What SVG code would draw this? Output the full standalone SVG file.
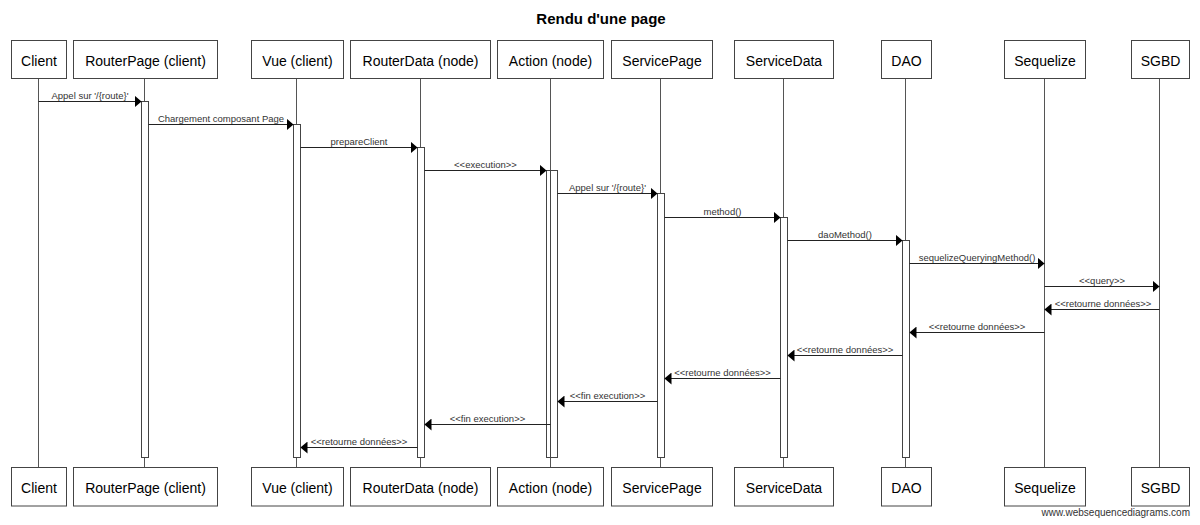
<svg xmlns="http://www.w3.org/2000/svg" width="1200" height="525" viewBox="0 0 1200 525">
<defs>
<marker id="ah" viewBox="0 0 7 12" refX="7" refY="6" markerWidth="7" markerHeight="12" markerUnits="userSpaceOnUse" orient="auto"><path d="M0,0 L7,6 L0,12 z" fill="#000"/></marker>
</defs>
<style>
.box{fill:#fff;stroke:#444;stroke-width:1}
.life{stroke:#555;stroke-width:1;fill:none}
.act{fill:#fff;stroke:#444;stroke-width:1}
.pl{font-family:"Liberation Sans",Arial,sans-serif;font-size:14px;fill:#000;text-anchor:middle}
.msg{stroke:#222;stroke-width:1;fill:none;marker-end:url(#ah)}
.ml{font-family:"Liberation Sans",Arial,sans-serif;font-size:9.5px;fill:#333;text-anchor:middle}
.title{font-family:"Liberation Sans",Arial,sans-serif;font-size:15px;font-weight:bold;fill:#000;text-anchor:middle}
.foot{font-family:"Liberation Sans",Arial,sans-serif;font-size:10px;fill:#333;text-anchor:end}
</style>
<rect width="1200" height="525" fill="#fff"/>
<text class="title" x="601" y="23.5">Rendu d'une page</text>

<g id="client">
<line class="life" x1="38.5" y1="78.5" x2="38.5" y2="467.5"/>
<rect class="box" x="11.5" y="40.5" width="55" height="38"/>
<text class="pl" x="39" y="65.5">Client</text>
<rect class="box" x="11.5" y="467.5" width="55" height="38.5"/>
<text class="pl" x="39" y="493">Client</text>
</g>
<g id="routerpage">
<line class="life" x1="144.5" y1="78.5" x2="144.5" y2="467.5"/>
<rect class="act" x="141.5" y="101.5" width="7" height="356"/>
<rect class="box" x="73.5" y="40.5" width="144" height="38"/>
<text class="pl" x="145.5" y="65.5">RouterPage (client)</text>
<rect class="box" x="73.5" y="467.5" width="144" height="38.5"/>
<text class="pl" x="145.5" y="493">RouterPage (client)</text>
</g>
<g id="vue">
<line class="life" x1="296.5" y1="78.5" x2="296.5" y2="467.5"/>
<rect class="act" x="293.5" y="124.5" width="7" height="333"/>
<rect class="box" x="251.5" y="40.5" width="92" height="38"/>
<text class="pl" x="297.5" y="65.5">Vue (client)</text>
<rect class="box" x="251.5" y="467.5" width="92" height="38.5"/>
<text class="pl" x="297.5" y="493">Vue (client)</text>
</g>
<g id="routerdata">
<line class="life" x1="420.5" y1="78.5" x2="420.5" y2="467.5"/>
<rect class="act" x="417.5" y="147.5" width="7" height="310"/>
<rect class="box" x="350.5" y="40.5" width="140" height="38"/>
<text class="pl" x="420.5" y="65.5">RouterData (node)</text>
<rect class="box" x="350.5" y="467.5" width="140" height="38.5"/>
<text class="pl" x="420.5" y="493">RouterData (node)</text>
</g>
<g id="action">
<line class="life" x1="550.5" y1="78.5" x2="550.5" y2="467.5"/>
<rect class="act" x="546.5" y="170.5" width="7" height="287"/>
<rect class="act" x="550.5" y="170.5" width="7" height="287"/>
<rect class="box" x="497.5" y="40.5" width="106" height="38"/>
<text class="pl" x="550.5" y="65.5">Action (node)</text>
<rect class="box" x="497.5" y="467.5" width="106" height="38.5"/>
<text class="pl" x="550.5" y="493">Action (node)</text>
</g>
<g id="servicepage">
<line class="life" x1="660.5" y1="78.5" x2="660.5" y2="467.5"/>
<rect class="act" x="657.5" y="193.5" width="7" height="264"/>
<rect class="box" x="611.5" y="40.5" width="101" height="38"/>
<text class="pl" x="662" y="65.5">ServicePage</text>
<rect class="box" x="611.5" y="467.5" width="101" height="38.5"/>
<text class="pl" x="662" y="493">ServicePage</text>
</g>
<g id="servicedata">
<line class="life" x1="783.5" y1="78.5" x2="783.5" y2="467.5"/>
<rect class="act" x="780.5" y="217.5" width="7" height="240"/>
<rect class="box" x="734.5" y="40.5" width="99" height="38"/>
<text class="pl" x="784" y="65.5">ServiceData</text>
<rect class="box" x="734.5" y="467.5" width="99" height="38.5"/>
<text class="pl" x="784" y="493">ServiceData</text>
</g>
<g id="dao">
<line class="life" x1="905.5" y1="78.5" x2="905.5" y2="467.5"/>
<rect class="act" x="902.5" y="240.5" width="7" height="217"/>
<rect class="box" x="881.5" y="40.5" width="50" height="38"/>
<text class="pl" x="906.5" y="65.5">DAO</text>
<rect class="box" x="881.5" y="467.5" width="50" height="38.5"/>
<text class="pl" x="906.5" y="493">DAO</text>
</g>
<g id="sequelize">
<line class="life" x1="1044.5" y1="78.5" x2="1044.5" y2="467.5"/>
<rect class="box" x="1004.5" y="40.5" width="81" height="38"/>
<text class="pl" x="1045" y="65.5">Sequelize</text>
<rect class="box" x="1004.5" y="467.5" width="81" height="38.5"/>
<text class="pl" x="1045" y="493">Sequelize</text>
</g>
<g id="sgbd">
<line class="life" x1="1159.5" y1="78.5" x2="1159.5" y2="467.5"/>
<rect class="box" x="1131.5" y="40.5" width="58" height="38"/>
<text class="pl" x="1160.5" y="65.5">SGBD</text>
<rect class="box" x="1131.5" y="467.5" width="58" height="38.5"/>
<text class="pl" x="1160.5" y="493">SGBD</text>
</g>

<g id="connectors">
<line class="msg" x1="38.5" y1="101.5" x2="141.5" y2="101.5"/>
<text class="ml" x="90" y="98.5">Appel sur '/{route}'</text>
<line class="msg" x1="148.5" y1="124.5" x2="293.5" y2="124.5"/>
<text class="ml" x="221" y="121.5">Chargement composant Page</text>
<line class="msg" x1="300.5" y1="147.5" x2="417.5" y2="147.5"/>
<text class="ml" x="359" y="144.5">prepareClient</text>
<line class="msg" x1="424.5" y1="170.5" x2="546.5" y2="170.5"/>
<text class="ml" x="485.5" y="167.5">&lt;&lt;execution&gt;&gt;</text>
<line class="msg" x1="557.5" y1="193.5" x2="657.5" y2="193.5"/>
<text class="ml" x="607.5" y="190.5">Appel sur '/{route}'</text>
<line class="msg" x1="664.5" y1="217.5" x2="780.5" y2="217.5"/>
<text class="ml" x="722.5" y="214.5">method()</text>
<line class="msg" x1="787.5" y1="240.5" x2="902.5" y2="240.5"/>
<text class="ml" x="845" y="237.5">daoMethod()</text>
<line class="msg" x1="909.5" y1="263.5" x2="1044.5" y2="263.5"/>
<text class="ml" x="977" y="260.5">sequelizeQueryingMethod()</text>
<line class="msg" x1="1044.5" y1="286.5" x2="1159.5" y2="286.5"/>
<text class="ml" x="1102" y="283.5">&lt;&lt;query&gt;&gt;</text>
<line class="msg" x1="1159.5" y1="309.5" x2="1044.5" y2="309.5"/>
<text class="ml" x="1103" y="306.5">&lt;&lt;retourne données&gt;&gt;</text>
<line class="msg" x1="1044.5" y1="332.5" x2="909.5" y2="332.5"/>
<text class="ml" x="977" y="329.5">&lt;&lt;retourne données&gt;&gt;</text>
<line class="msg" x1="902.5" y1="355.5" x2="787.5" y2="355.5"/>
<text class="ml" x="845" y="352.5">&lt;&lt;retourne données&gt;&gt;</text>
<line class="msg" x1="780.5" y1="378.5" x2="664.5" y2="378.5"/>
<text class="ml" x="722.5" y="375.5">&lt;&lt;retourne données&gt;&gt;</text>
<line class="msg" x1="657.5" y1="401.5" x2="557.5" y2="401.5"/>
<text class="ml" x="607.5" y="398.5">&lt;&lt;fin execution&gt;&gt;</text>
<line class="msg" x1="550.5" y1="424.5" x2="424.5" y2="424.5"/>
<text class="ml" x="487.5" y="421.5">&lt;&lt;fin execution&gt;&gt;</text>
<line class="msg" x1="417.5" y1="447.5" x2="300.5" y2="447.5"/>
<text class="ml" x="359" y="444.5">&lt;&lt;retourne données&gt;&gt;</text>
</g>
<text class="foot" x="1190" y="516">www.websequencediagrams.com</text>
</svg>
